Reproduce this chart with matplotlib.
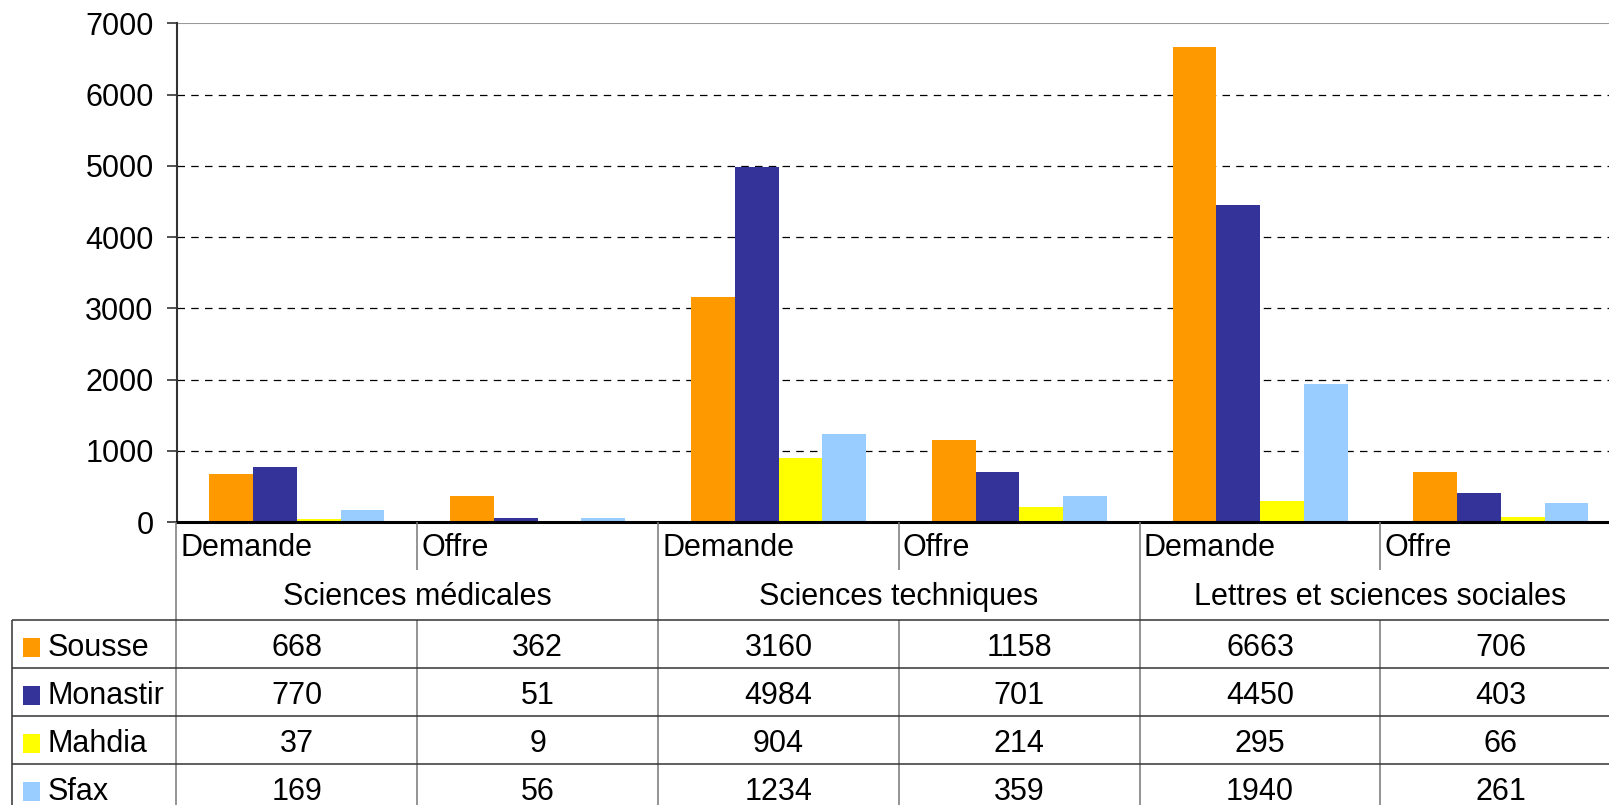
import matplotlib
matplotlib.use("Agg")
import matplotlib.pyplot as plt

plt.rcParams['font.family'] = ['Liberation Sans', 'DejaVu Sans']

groups = ["Sciences médicales", "Sciences techniques", "Lettres et sciences sociales"]
subcats = ["Demande", "Offre"]
series_names = ["Sousse", "Monastir", "Mahdia", "Sfax"]
sousse = [668, 362, 3160, 1158, 6663, 706]
monastir = [770, 51, 4984, 701, 4450, 403]
mahdia = [37, 9, 904, 214, 295, 66]
sfax = [169, 56, 1234, 359, 1940, 261]
colors = ["#FF9900", "#333399", "#FFFF00", "#99CCFF"]
yticks = [0, 1000, 2000, 3000, 4000, 5000, 6000, 7000]

series = [sousse, monastir, mahdia, sfax]

W, H = 1609, 805
FS = 22

fig = plt.figure(figsize=(W / 100, H / 100), dpi=100)

# layout (pixels)
x_axis = 176.5
col_w = 240.8
y0 = 522.0
ytop = 23.3
ncols = len(sousse)
x_right = x_axis + ncols * col_w

ax = fig.add_axes([x_axis / W, 1 - y0 / H, (x_right - x_axis) / W, (y0 - ytop) / H])
ax.set_xlim(0, ncols)
ax.set_ylim(0, 7000)

bw = 1 / 5.5
for j, (vals, c) in enumerate(zip(series, colors)):
    xs = [i + 0.5 + (j - 1.5) * bw for i in range(ncols)]
    ax.bar(xs, vals, width=bw, color=c, edgecolor='none', zorder=3)

for t in yticks[1:-1]:
    ax.axhline(t, color='black', lw=0.9, ls=(0, (6, 5)), zorder=1)
ax.axhline(7000, color='#999999', lw=1.5, zorder=1)

ax.set_yticks(yticks)
ax.set_yticklabels([str(t) for t in yticks], fontsize=FS)
ax.tick_params(axis='y', direction='out', length=7, width=1.2, color='#333333', pad=9.5)
ax.tick_params(axis='x', length=0, labelbottom=False)
for s in ['top', 'right']:
    ax.spines[s].set_visible(False)
ax.spines['left'].set_color('#333333')
ax.spines['left'].set_linewidth(1.5)
ax.spines['bottom'].set_color('black')
ax.spines['bottom'].set_linewidth(2.2)
ax.spines['bottom'].set_zorder(5)

# table overlay in pixel coordinates
tab = fig.add_axes([0, 0, 1, 1])
tab.set_xlim(0, W)
tab.set_ylim(H, 0)
tab.axis('off')
tab.patch.set_visible(False)

line_kw = dict(color='#333333', lw=1.1, solid_capstyle='butt')
vline_kw = dict(color='#777777', lw=1.1, solid_capstyle='butt')

y_sub = 548
y_sub_bot = 569.5
y_grp = 597
y_tab_top = 620
row_h = 47.9
text_off = 4

# sub-category labels and separators
for i in range(ncols):
    xl = x_axis + i * col_w
    tab.text(xl + 4, y_sub, subcats[i % 2], fontsize=FS, ha='left', va='center')
    if i % 2 == 1:
        tab.plot([xl, xl], [y0, y_sub_bot], **vline_kw)
        tab.plot([xl, xl], [y_tab_top, H], **vline_kw)
    else:
        tab.plot([xl, xl], [y0, H], **vline_kw)

for g, name in enumerate(groups):
    xc = x_axis + (2 * g + 1) * col_w
    tab.text(xc, y_grp, name, fontsize=FS, ha='center', va='center')

# table body
x_tab_left = 12
tab.plot([x_tab_left, x_tab_left], [y_tab_top, H], **line_kw)
for r in range(len(series)):
    yl = y_tab_top + r * row_h
    tab.plot([x_tab_left, W], [yl, yl], **line_kw)
    yc = yl + row_h / 2 + text_off
    tab.add_patch(plt.Rectangle((23, yc - 9.5), 17, 19, color=colors[r], lw=0))
    tab.text(48, yc, series_names[r], fontsize=FS, ha='left', va='center')
    for i, v in enumerate(series[r]):
        xc = x_axis + (i + 0.5) * col_w
        tab.text(xc, yc, str(v), fontsize=FS, ha='center', va='center')

fig.savefig("out.png", dpi=100)
